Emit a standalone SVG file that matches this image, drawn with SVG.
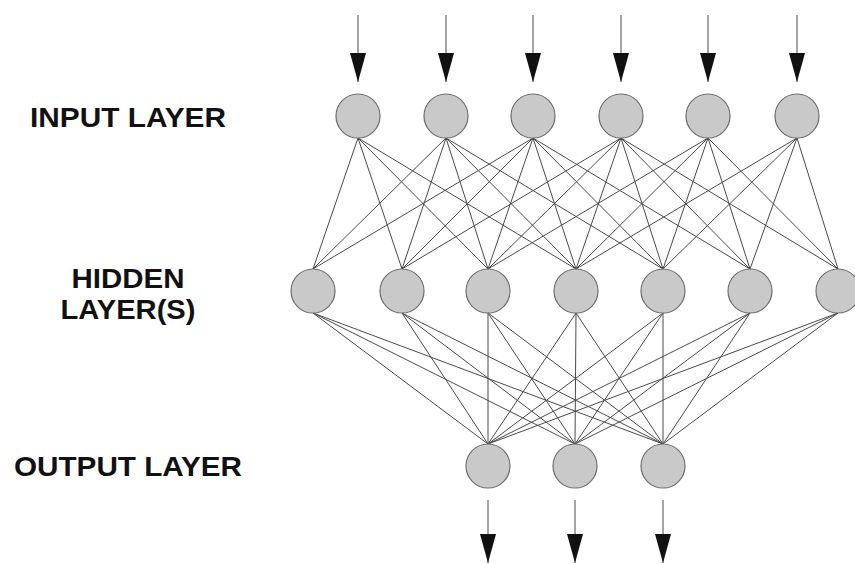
<svg xmlns="http://www.w3.org/2000/svg" width="855" height="564" viewBox="0 0 855 564">
<style>
.lbl{font-family:"Liberation Sans",Arial,sans-serif;font-weight:bold;font-size:28px;fill:#111;text-anchor:middle}
.node{fill:#c9c9c9;stroke:#6e6e6e;stroke-width:1.2}
.conn line{stroke:#4a4a4a;stroke-width:1}
.arr{stroke:#222;stroke-width:1.6;marker-end:url(#head)}
</style>
<defs>
<marker id="head" markerUnits="userSpaceOnUse" markerWidth="29" markerHeight="16" refX="29" refY="8" orient="auto">
<path d="M0,0 L29,8 L0,16 z" fill="#111"/>
</marker>
</defs>
<rect width="855" height="564" fill="#fff"/>
<g id="labels">
<text class="lbl" x="128" y="127" textLength="196" lengthAdjust="spacingAndGlyphs">INPUT LAYER</text>
<text class="lbl" x="128" y="288" textLength="113" lengthAdjust="spacingAndGlyphs">HIDDEN</text>
<text class="lbl" x="128" y="319" textLength="135" lengthAdjust="spacingAndGlyphs">LAYER(S)</text>
<text class="lbl" x="128" y="476" textLength="228" lengthAdjust="spacingAndGlyphs">OUTPUT LAYER</text>
</g>
<g id="connectors" class="conn">
<line x1="358" y1="138" x2="313" y2="269"/>
<line x1="358" y1="138" x2="402" y2="269"/>
<line x1="358" y1="138" x2="488" y2="269"/>
<line x1="358" y1="138" x2="576" y2="269"/>
<line x1="446" y1="138" x2="313" y2="269"/>
<line x1="446" y1="138" x2="402" y2="269"/>
<line x1="446" y1="138" x2="488" y2="269"/>
<line x1="446" y1="138" x2="576" y2="269"/>
<line x1="446" y1="138" x2="663" y2="269"/>
<line x1="533" y1="138" x2="313" y2="269"/>
<line x1="533" y1="138" x2="402" y2="269"/>
<line x1="533" y1="138" x2="488" y2="269"/>
<line x1="533" y1="138" x2="576" y2="269"/>
<line x1="533" y1="138" x2="663" y2="269"/>
<line x1="533" y1="138" x2="750" y2="269"/>
<line x1="621" y1="138" x2="402" y2="269"/>
<line x1="621" y1="138" x2="488" y2="269"/>
<line x1="621" y1="138" x2="576" y2="269"/>
<line x1="621" y1="138" x2="663" y2="269"/>
<line x1="621" y1="138" x2="750" y2="269"/>
<line x1="621" y1="138" x2="838" y2="269"/>
<line x1="708" y1="138" x2="488" y2="269"/>
<line x1="708" y1="138" x2="576" y2="269"/>
<line x1="708" y1="138" x2="663" y2="269"/>
<line x1="708" y1="138" x2="750" y2="269"/>
<line x1="708" y1="138" x2="838" y2="269"/>
<line x1="797" y1="138" x2="576" y2="269"/>
<line x1="797" y1="138" x2="663" y2="269"/>
<line x1="797" y1="138" x2="750" y2="269"/>
<line x1="797" y1="138" x2="838" y2="269"/>
<line x1="313" y1="313" x2="488" y2="444"/>
<line x1="313" y1="313" x2="575" y2="444"/>
<line x1="313" y1="313" x2="663" y2="444"/>
<line x1="402" y1="313" x2="488" y2="444"/>
<line x1="402" y1="313" x2="575" y2="444"/>
<line x1="402" y1="313" x2="663" y2="444"/>
<line x1="488" y1="313" x2="488" y2="444"/>
<line x1="488" y1="313" x2="575" y2="444"/>
<line x1="488" y1="313" x2="663" y2="444"/>
<line x1="576" y1="313" x2="488" y2="444"/>
<line x1="576" y1="313" x2="575" y2="444"/>
<line x1="576" y1="313" x2="663" y2="444"/>
<line x1="663" y1="313" x2="488" y2="444"/>
<line x1="663" y1="313" x2="575" y2="444"/>
<line x1="663" y1="313" x2="663" y2="444"/>
<line x1="750" y1="313" x2="488" y2="444"/>
<line x1="750" y1="313" x2="575" y2="444"/>
<line x1="750" y1="313" x2="663" y2="444"/>
<line x1="838" y1="313" x2="488" y2="444"/>
<line x1="838" y1="313" x2="575" y2="444"/>
<line x1="838" y1="313" x2="663" y2="444"/>
<line class="arr" x1="358" y1="15" x2="358" y2="82"/>
<line class="arr" x1="446" y1="15" x2="446" y2="82"/>
<line class="arr" x1="533" y1="15" x2="533" y2="82"/>
<line class="arr" x1="621" y1="15" x2="621" y2="82"/>
<line class="arr" x1="708" y1="15" x2="708" y2="82"/>
<line class="arr" x1="797" y1="15" x2="797" y2="82"/>
<line class="arr" x1="488" y1="500" x2="488" y2="563"/>
<line class="arr" x1="575" y1="500" x2="575" y2="563"/>
<line class="arr" x1="663" y1="500" x2="663" y2="563"/>
</g>
<g id="in1"><circle class="node" cx="358" cy="116" r="22"/></g>
<g id="in2"><circle class="node" cx="446" cy="116" r="22"/></g>
<g id="in3"><circle class="node" cx="533" cy="116" r="22"/></g>
<g id="in4"><circle class="node" cx="621" cy="116" r="22"/></g>
<g id="in5"><circle class="node" cx="708" cy="116" r="22"/></g>
<g id="in6"><circle class="node" cx="797" cy="116" r="22"/></g>
<g id="h1"><circle class="node" cx="313" cy="291" r="22"/></g>
<g id="h2"><circle class="node" cx="402" cy="291" r="22"/></g>
<g id="h3"><circle class="node" cx="488" cy="291" r="22"/></g>
<g id="h4"><circle class="node" cx="576" cy="291" r="22"/></g>
<g id="h5"><circle class="node" cx="663" cy="291" r="22"/></g>
<g id="h6"><circle class="node" cx="750" cy="291" r="22"/></g>
<g id="h7"><circle class="node" cx="838" cy="291" r="22"/></g>
<g id="out1"><circle class="node" cx="488" cy="466" r="22"/></g>
<g id="out2"><circle class="node" cx="575" cy="466" r="22"/></g>
<g id="out3"><circle class="node" cx="663" cy="466" r="22"/></g>
</svg>
